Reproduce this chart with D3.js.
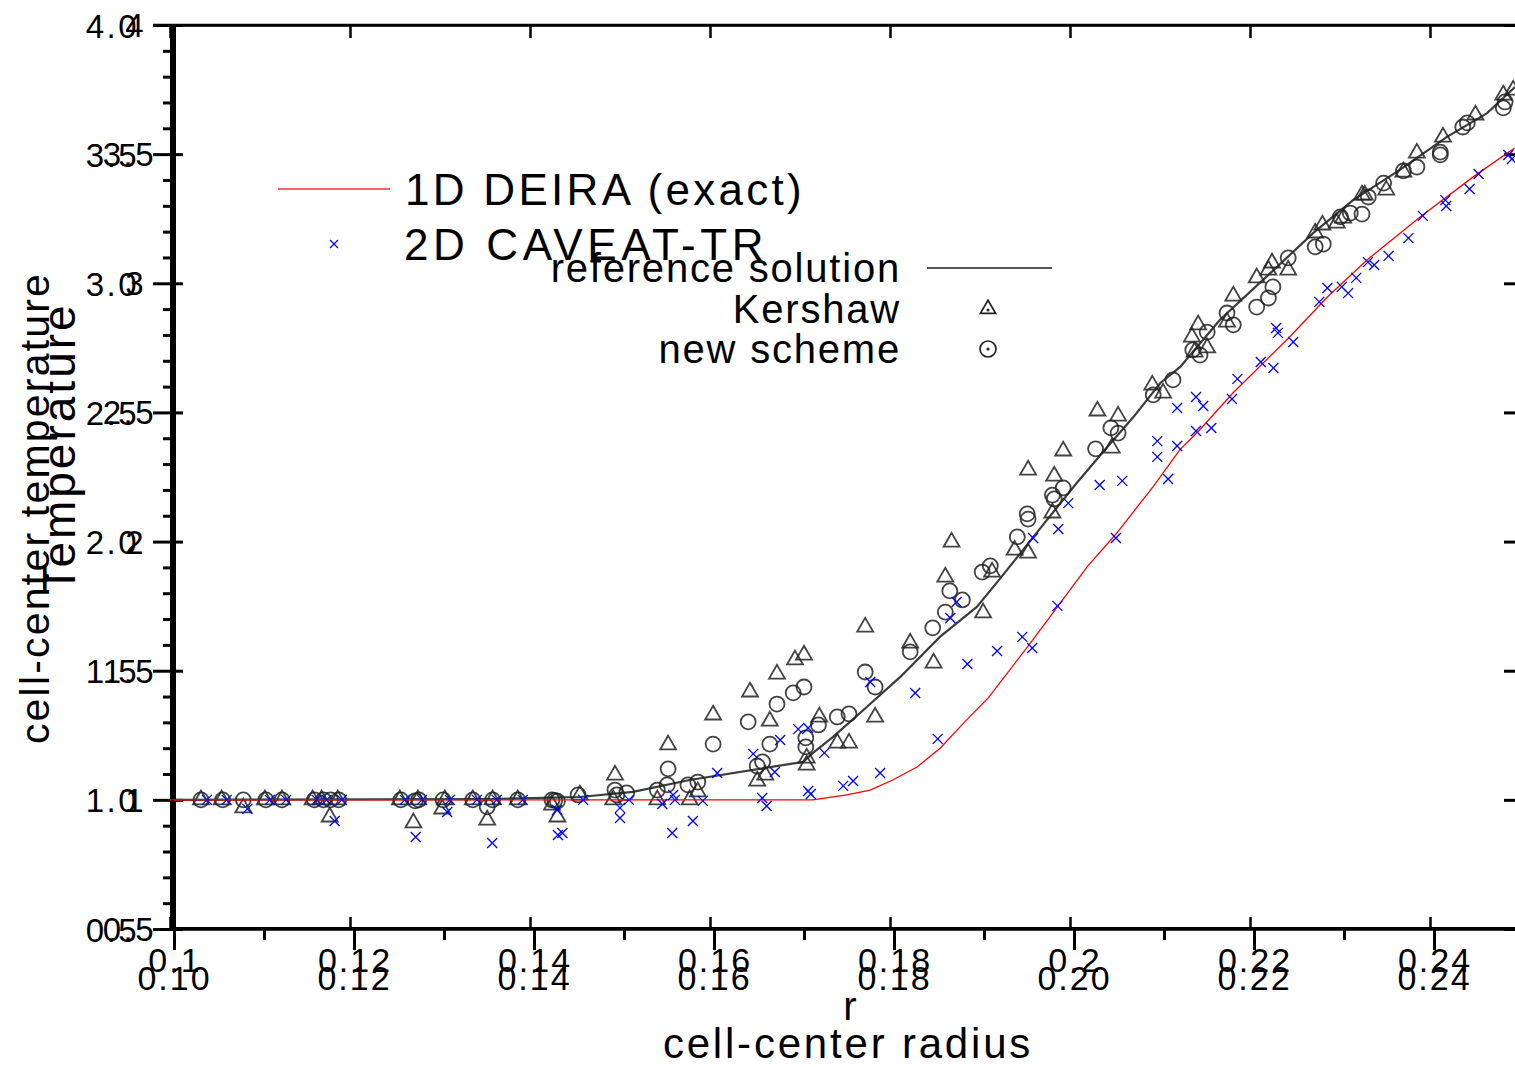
<!DOCTYPE html>
<html><head><meta charset="utf-8">
<script src="https://cdn.jsdelivr.net/npm/d3@7"></script>
<style>
body{margin:0;background:#fff}
svg{display:block}
text{font-family:"Liberation Sans",Arial,Helvetica,sans-serif;fill:#000}
</style>
</head><body>
<svg id="c" width="1515" height="1067"></svg>
<script>
// ---------- DATA ----------
// Chart A (1D DEIRA exact / 2D CAVEAT-TR)
const xTickValsA = [0.10,0.12,0.14,0.16,0.18,0.20,0.22,0.24];
const xTickLabelsA = ["0.1","0.12","0.14","0.16","0.18","0.2","0.22","0.24"];
const yTickValsA = [4,3.5,3,2.5,2,1.5,1,0.5];
const yTickLabelsA = ["4","3.5","3","2.5","2","1.5","1","0.5"];
// Chart B (reference / Kershaw / new scheme)
const xTickValsB = [0.10,0.12,0.14,0.16,0.18,0.20,0.22,0.24];
const yTickValsB = [4.0,3.5,3.0,2.5,2.0,1.5,1.0,0.5];

const deiraR = [0.100,0.1714,0.1752,0.1778,0.1803,0.1830,0.1856,0.1883,0.1909,0.1956,0.1986,0.2019,0.2052,0.2092,0.2122,0.2144,0.2181,0.2244,0.2286,0.2330,0.2389,0.2448,0.2494];
const deiraT = [1.0,1.0,1.019,1.038,1.077,1.127,1.201,1.302,1.394,1.607,1.747,1.902,2.033,2.211,2.355,2.432,2.575,2.792,2.947,3.090,3.257,3.412,3.524];

const caveatR = [0.1041,0.1063,0.1086,0.1111,0.1129,0.1163,0.1174,0.1183,0.1191,0.1261,0.1273,0.1280,0.1308,0.1311,0.1341,0.1358,0.1363,0.1392,0.1430,0.1431,0.1436,0.1459,0.1500,0.1500,0.1510,0.1547,0.1558,0.1559,0.1561,0.1581,0.1592,0.1608,0.1648,0.1658,0.1663,0.1672,0.1678,0.1698,0.1709,0.1709,0.1712,0.1727,0.1748,0.1759,0.1778,0.1789,0.1828,0.1853,0.1867,0.1874,0.1886,0.1919,0.1947,0.1958,0.1959,0.1986,0.1987,0.1998,0.2033,0.2051,0.2058,0.2097,0.2097,0.2109,0.2119,0.2119,0.2140,0.2140,0.2148,0.2157,0.2180,0.2186,0.2212,0.2226,0.2229,0.2231,0.2248,0.2277,0.2286,0.2302,0.2309,0.2318,0.2331,0.2338,0.2354,0.2376,0.2392,0.2417,0.2418,0.2444,0.2454,0.2487,0.2491];
const caveatT = [1.0,1.0,0.965,1.0,1.0,1.0,1.0,0.918,1.0,1.0,0.856,1.0,0.953,1.0,1.0,0.833,1.0,1.0,0.961,0.864,0.872,1.0,0.969,0.930,1.0,0.984,0.872,1.019,1.0,0.918,0.996,1.104,1.178,1.007,0.976,1.108,1.232,1.274,1.278,1.034,1.023,1.182,1.054,1.073,1.456,1.104,1.414,1.236,1.704,1.766,1.526,1.576,1.631,1.588,2.014,1.751,2.049,2.149,2.219,2.014,2.235,2.389,2.328,2.242,2.517,2.370,2.560,2.428,2.525,2.440,2.552,2.630,2.695,2.672,2.827,2.808,2.773,2.928,2.982,2.986,2.962,3.021,3.082,3.071,3.106,3.175,3.261,3.322,3.299,3.365,3.423,3.497,3.481];

const refR = [0.1,0.1350,0.1451,0.1510,0.1573,0.1699,0.1710,0.1732,0.1766,0.1807,0.1851,0.1892,0.1914,0.1937,0.1970,0.2003,0.2037,0.2066,0.2096,0.2118,0.2162,0.2210,0.2266,0.2310,0.2362,0.2414,0.2459,0.2490];
const refT = [1.0,1.003,1.011,1.031,1.077,1.147,1.182,1.243,1.348,1.476,1.631,1.747,1.840,1.940,2.084,2.227,2.366,2.482,2.614,2.676,2.858,3.013,3.195,3.322,3.439,3.566,3.659,3.760];

const kershawR = [0.1030,0.1053,0.1077,0.1101,0.1120,0.1154,0.1164,0.1173,0.1182,0.1251,0.1266,0.1271,0.1298,0.1301,0.1332,0.1348,0.1354,0.1382,0.1420,0.1426,0.1451,0.1488,0.1490,0.1537,0.1549,0.1573,0.1582,0.1599,0.1640,0.1648,0.1657,0.1662,0.1670,0.1690,0.1700,0.1703,0.1703,0.1717,0.1737,0.1750,0.1768,0.1779,0.1818,0.1844,0.1857,0.1864,0.1899,0.1909,0.1934,0.1949,0.1949,0.1976,0.1978,0.1988,0.2026,0.2042,0.2049,0.2087,0.2099,0.2131,0.2138,0.2148,0.2134,0.2177,0.2170,0.2203,0.2216,0.2220,0.2238,0.2268,0.2276,0.2292,0.2299,0.2320,0.2323,0.2347,0.2366,0.2381,0.2410,0.2446,0.2477,0.2488];
const kershawT = [1.0,1.0,0.969,1.0,1.0,1.0,1.0,0.934,1.0,1.0,0.911,1.0,0.965,1.0,1.0,0.922,1.0,1.0,0.980,0.934,1.019,1.0,1.096,1.0,1.213,1.0,1.031,1.329,1.418,1.073,1.096,1.305,1.487,1.542,1.561,1.162,1.135,1.321,1.220,1.220,1.669,1.321,1.607,1.530,1.863,1.998,1.724,1.882,1.967,2.277,1.956,2.111,2.254,2.351,2.506,2.362,2.486,2.606,2.575,2.792,2.839,2.750,2.734,2.951,2.850,3.021,3.051,3.079,3.051,3.195,3.226,3.233,3.253,3.342,3.342,3.361,3.431,3.504,3.566,3.652,3.729,3.748];

const newR = [0.1030,0.1054,0.1077,0.1102,0.1120,0.1156,0.1166,0.1174,0.1183,0.1252,0.1268,0.1272,0.1299,0.1332,0.1348,0.1354,0.1382,0.1420,0.1423,0.1426,0.1449,0.1490,0.1492,0.1503,0.1537,0.1548,0.1549,0.1571,0.1582,0.1599,0.1638,0.1648,0.1654,0.1662,0.1670,0.1688,0.1700,0.1702,0.1702,0.1716,0.1737,0.1750,0.1768,0.1779,0.1818,0.1843,0.1857,0.1862,0.1876,0.1898,0.1907,0.1937,0.1948,0.1949,0.1976,0.1978,0.1988,0.2024,0.2041,0.2049,0.2088,0.2110,0.2132,0.2140,0.2148,0.2170,0.2177,0.2203,0.2216,0.2221,0.2238,0.2268,0.2277,0.2296,0.2307,0.2320,0.2327,0.2344,0.2366,0.2381,0.2407,0.2407,0.2432,0.2437,0.2477,0.2479];
const newT = [1.0,1.0,1.0,1.0,1.0,1.0,1.0,1.0,1.0,1.0,0.996,1.0,1.0,1.0,0.973,1.0,1.0,1.0,0.998,0.995,1.019,1.038,1.019,1.027,1.038,1.058,1.120,1.058,1.069,1.216,1.302,1.131,1.147,1.216,1.371,1.414,1.437,1.240,1.205,1.290,1.321,1.333,1.495,1.437,1.573,1.666,1.727,1.809,1.774,1.882,1.906,2.018,2.107,2.087,2.180,2.165,2.208,2.359,2.440,2.420,2.568,2.626,2.742,2.722,2.811,2.885,2.839,2.908,2.943,2.986,3.098,3.141,3.152,3.257,3.272,3.268,3.334,3.388,3.435,3.450,3.497,3.508,3.605,3.621,3.679,3.702];

// ---------- SCALES ----------
const svg = d3.select("#c");
const xB = d3.scaleLinear().domain([0.1,0.25]).range([174,1524]);
const xA = d3.scaleLinear().domain([0.1,0.25]).range([170,1520]);
const y = d3.scaleLinear().domain([0.5,4]).range([929,25]);

svg.append("defs").append("clipPath").attr("id","clip")
  .append("rect").attr("x",170).attr("y",20).attr("width",1360).attr("height",915);

function styleAxis(g, w){
  g.selectAll("path.domain").attr("stroke","#000").attr("stroke-width",w);
  g.selectAll(".tick line").attr("stroke","#000").attr("stroke-width",w);
}

// ---------- FRAME / AXES ----------
svg.append("line").attr("x1",153).attr("x2",1515).attr("y1",25).attr("y2",25)
  .attr("stroke","#000").attr("stroke-width",2.5);

// Chart A axes (inward ticks)
const aTop = svg.append("g").attr("transform","translate(0,25)")
  .call(d3.axisBottom(xA).tickValues(xTickValsA).tickSize(13).tickSizeOuter(0).tickFormat(""));
styleAxis(aTop,2.5);
const aBot = svg.append("g").attr("transform","translate(0,929)")
  .call(d3.axisTop(xA).tickValues(xTickValsA).tickSize(12).tickSizeOuter(0).tickFormat(""));
styleAxis(aBot,2.5);
const aLeft = svg.append("g").attr("transform","translate(171,0)")
  .call(d3.axisRight(y).tickValues(yTickValsA).tickSize(12).tickSizeOuter(0).tickFormat(""));
styleAxis(aLeft,3);
const aRight = svg.append("g").attr("transform","translate(1521,0)")
  .call(d3.axisLeft(y).tickValues(yTickValsA).tickSize(17).tickSizeOuter(0).tickFormat(""));
styleAxis(aRight,3);

// Chart B axes (outward ticks)
const yMinorB = d3.range(6,40).map(d=>d/10).filter(v=>Math.abs(v*2-Math.round(v*2))>1e-6);
const bLeftMinor = svg.append("g").attr("transform","translate(174,0)")
  .call(d3.axisLeft(y).tickValues(yMinorB).tickSize(11).tickSizeOuter(0).tickFormat(""));
styleAxis(bLeftMinor,3);
const bLeft = svg.append("g").attr("transform","translate(174,0)")
  .call(d3.axisLeft(y).tickValues(yTickValsB).tickSize(21).tickSizeOuter(0).tickFormat(d3.format(".1f")));
styleAxis(bLeft,3);
bLeft.selectAll(".tick text").attr("x",-35).attr("dy",null).attr("y",12)
  .style("font-size","33px").style("letter-spacing","2.5px").attr("text-anchor","end");

const xMinorB = [0.11,0.13,0.15,0.17,0.19,0.21,0.23];
const bBotMinor = svg.append("g").attr("transform","translate(0,928)")
  .call(d3.axisBottom(xB).tickValues(xMinorB).tickSize(12).tickSizeOuter(0).tickFormat(""));
styleAxis(bBotMinor,3);
const bBot = svg.append("g").attr("transform","translate(0,928)")
  .call(d3.axisBottom(xB).tickValues(xTickValsB).tickSize(22).tickSizeOuter(0).tickFormat(d3.format(".2f")));
styleAxis(bBot,3);
bBot.selectAll(".tick text").attr("y",62).attr("dy",null)
  .style("font-size","34px").style("letter-spacing","2px");

// Chart A tick labels
svg.append("g").selectAll("text").data(xTickValsA).join("text")
  .attr("x",(d,i)=>xB(d)+1).attr("y",972).attr("text-anchor","middle")
  .style("font-size","34px").style("letter-spacing","2px")
  .text((d,i)=>xTickLabelsA[i]);
svg.append("g").selectAll("text").data(yTickValsA).join("text")
  .attr("x",(d,i)=>yTickLabelsA[i].length>1?156:146).attr("y",d=>y(d)+12).attr("text-anchor","end")
  .style("font-size","33px").style("letter-spacing","2.5px")
  .text((d,i)=>yTickLabelsA[i]);

// Axis titles
svg.append("text").attr("x",850).attr("y",1020).attr("text-anchor","middle")
  .style("font-size","40px").text("r");
svg.append("text").attr("x",848).attr("y",1058).attr("text-anchor","middle")
  .style("font-size","42px").style("letter-spacing","2.8px").text("cell-center radius");
svg.append("text").attr("transform","translate(75,448) rotate(-90)").attr("text-anchor","middle")
  .style("font-size","46px").style("letter-spacing","3px").text("Temperature");
svg.append("text").attr("transform","translate(49,508) rotate(-90)").attr("text-anchor","middle")
  .style("font-size","41px").style("letter-spacing","2.2px").text("cell-center temperature");

// ---------- CHART B MARKS ----------
const plot = svg.append("g").attr("clip-path","url(#clip)");
const refLine = d3.line().x(d=>xB(d[0])).y(d=>y(d[1]));
plot.append("path").datum(d3.zip(refR,refT)).attr("d",refLine)
  .attr("fill","none").attr("stroke","#3c3c3c").attr("stroke-width",2.2);

const triSym = d3.symbol().type(d3.symbolTriangle).size(110);
plot.append("g").selectAll("path").data(d3.zip(kershawR,kershawT)).join("path")
  .attr("transform",d=>`translate(${xB(d[0])},${y(d[1])})`).attr("d",triSym())
  .attr("fill","none").attr("stroke","#222").attr("stroke-width",1.8).attr("stroke-opacity",0.85);
plot.append("g").selectAll("circle").data(d3.zip(newR,newT)).join("circle")
  .attr("cx",d=>xB(d[0])).attr("cy",d=>y(d[1])).attr("r",7.5)
  .attr("fill","none").attr("stroke","#222").attr("stroke-width",1.8).attr("stroke-opacity",0.85);

// ---------- CHART A MARKS ----------
const deiraLine = d3.line().x(d=>xA(d[0])).y(d=>y(d[1]));
plot.append("path").datum(d3.zip(deiraR,deiraT)).attr("d",deiraLine)
  .attr("fill","none").attr("stroke","#ff0000").attr("stroke-width",1.3);
const xMark = "M-5,-5L5,5M-5,5L5,-5";
plot.append("g").selectAll("path").data(d3.zip(caveatR,caveatT)).join("path")
  .attr("transform",d=>`translate(${xA(d[0])},${y(d[1])})`).attr("d",xMark)
  .attr("stroke","#0000ff").attr("stroke-width",1.3).attr("fill","none");

// ---------- LEGENDS ----------
svg.append("line").attr("x1",278).attr("x2",390).attr("y1",189).attr("y2",189)
  .attr("stroke","#ff3333").attr("stroke-width",1.3);
svg.append("path").attr("transform","translate(334,244)").attr("d","M-4,-4L4,4M-4,4L4,-4")
  .attr("stroke","#0000ff").attr("stroke-width",1.2);
svg.append("text").attr("x",405).attr("y",205).style("font-size","44px").style("letter-spacing","3.3px").text("1D DEIRA (exact)");
svg.append("text").attr("x",404).attr("y",260).style("font-size","44px").style("letter-spacing","4.6px").text("2D CAVEAT-TR");

const legB = [["reference solution",282],["Kershaw",323],["new scheme",363]];
svg.append("g").selectAll("text").data(legB).join("text")
  .attr("x",901).attr("y",d=>d[1]).attr("text-anchor","end")
  .style("font-size","40px").style("letter-spacing","1.8px").text(d=>d[0]);
svg.append("line").attr("x1",927).attr("x2",1052).attr("y1",268).attr("y2",268)
  .attr("stroke","#555").attr("stroke-width",2);
svg.append("path").attr("transform","translate(988,309)").attr("d",d3.symbol().type(d3.symbolTriangle).size(100)())
  .attr("fill","none").attr("stroke","#222").attr("stroke-width",1.7);
svg.append("circle").attr("cx",988).attr("cy",310).attr("r",1.5).attr("fill","#222");
svg.append("circle").attr("cx",988).attr("cy",349).attr("r",8).attr("fill","none").attr("stroke","#222").attr("stroke-width",1.7);
svg.append("circle").attr("cx",988).attr("cy",349).attr("r",1.6).attr("fill","#222");
</script>
</body></html>
